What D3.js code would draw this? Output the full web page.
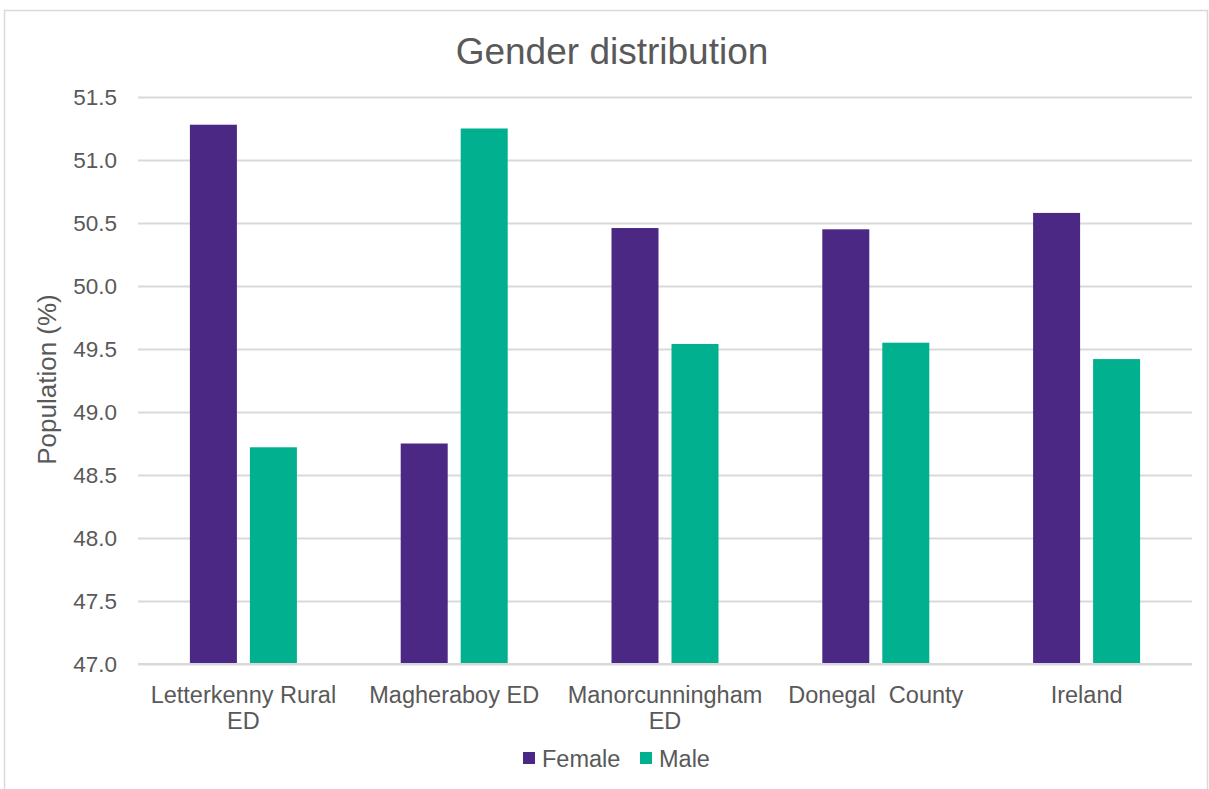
<!DOCTYPE html>
<html>
<head>
<meta charset="utf-8">
<script src="https://cdn.jsdelivr.net/npm/d3@7"></script>
<style>
  html, body { margin: 0; padding: 0; background: #fff; }
  svg { display: block; }
  text { font-family: "Liberation Sans", Arial, sans-serif; fill: #595959; }
</style>
</head>
<body>
<svg id="chart" width="1209" height="789"></svg>
<script>
// ---- data ----
const title = "Gender distribution";
const yAxisTitle = "Population (%)";
const categories = ["Letterkenny Rural\nED", "Magheraboy ED", "Manorcunningham\nED", "Donegal  County", "Ireland"];
const seriesNames = ["Female", "Male"];
const femaleValues = [51.28, 48.75, 50.46, 50.45, 50.58];
const maleValues = [48.72, 51.25, 49.54, 49.55, 49.42];
const yTicks = [47.0, 47.5, 48.0, 48.5, 49.0, 49.5, 50.0, 50.5, 51.0, 51.5];
const seriesColors = ["#4b2884", "#00b08e"];

// ---- layout ----
const W = 1209, H = 789;
const plot = { left: 138, right: 1192, top: 97, bottom: 664 };
const svg = d3.select("#chart");

// outer border
svg.append("rect")
  .attr("x", 4.5).attr("y", 10.5)
  .attr("width", 1203).attr("height", 800)
  .attr("fill", "none").attr("stroke", "#d9d9d9").attr("stroke-width", 1.5);

const y = d3.scaleLinear().domain([47, 51.5]).range([plot.bottom, plot.top]);
const x0 = d3.scaleBand().domain(categories).range([plot.left, plot.right])
  .paddingInner(0.4924).paddingOuter(0.2462);
const x1 = d3.scaleBand().domain(seriesNames).range([0, x0.bandwidth()])
  .paddingInner(0.2167).paddingOuter(0);
const color = d3.scaleOrdinal().domain(seriesNames).range(seriesColors);

// gridlines
const yAxis = d3.axisLeft(y).tickValues(yTicks).tickFormat(d3.format(".1f"))
  .tickSize(-(plot.right - plot.left)).tickPadding(21);
const gy = svg.append("g").attr("transform", `translate(${plot.left},0)`).call(yAxis);
gy.select(".domain").remove();
gy.selectAll(".tick line").attr("stroke", "#d9d9d9").attr("stroke-width", 2);
gy.selectAll(".tick text")
  .style("font-size", "22.5px")
  .style("font-family", "'Liberation Sans', Arial, sans-serif")
  .attr("fill", "#595959");

// bars
const rows = categories.map((c, i) => ({ cat: c, values: [femaleValues[i], maleValues[i]] }));
const groups = svg.append("g").selectAll("g").data(rows).join("g")
  .attr("transform", d => `translate(${x0(d.cat)},0)`);
groups.selectAll("rect")
  .data(d => seriesNames.map((s, j) => ({ s, v: d.values[j] })))
  .join("rect")
  .attr("x", d => x1(d.s))
  .attr("width", x1.bandwidth())
  .attr("y", d => y(d.v))
  .attr("height", d => y(47) - y(d.v))
  .attr("fill", d => color(d.s));

// x axis baseline
svg.append("line")
  .attr("x1", plot.left).attr("x2", plot.right)
  .attr("y1", y(47)).attr("y2", y(47))
  .attr("stroke", "#d9d9d9").attr("stroke-width", 2);

// x axis labels
const xAxis = d3.axisBottom(x0).tickSize(0).tickPadding(0).tickFormat(() => "");
const gx = svg.append("g").attr("transform", `translate(0,${plot.bottom})`).call(xAxis);
gx.select(".domain").remove();
gx.selectAll(".tick").each(function(d) {
  const t = d3.select(this).append("text")
    .attr("text-anchor", "middle")
    .style("font-size", "23.5px")
    .style("white-space", "pre")
    .attr("xml:space", "preserve");
  d.split("\n").forEach((line, k) => {
    t.append("tspan").attr("x", 0).attr("y", 39 + k * 26).text(line);
  });
});

// title
svg.append("text")
  .attr("x", 612).attr("y", 64)
  .attr("text-anchor", "middle")
  .style("font-size", "37px")
  .text(title);

// y axis title
svg.append("text")
  .attr("transform", `translate(56,${(plot.top + plot.bottom) / 2 - 1}) rotate(-90)`)
  .attr("text-anchor", "middle")
  .style("font-size", "26px")
  .text(yAxisTitle);

// legend
const legendX = [523, 640];
const lg = svg.append("g").selectAll("g").data(seriesNames).join("g")
  .attr("transform", (d, i) => `translate(${legendX[i]},752)`);
lg.append("rect").attr("width", 12).attr("height", 12).attr("fill", d => color(d));
lg.append("text").attr("x", 19).attr("y", 15)
  .style("font-size", "23.5px").text(d => d);
</script>
</body>
</html>
